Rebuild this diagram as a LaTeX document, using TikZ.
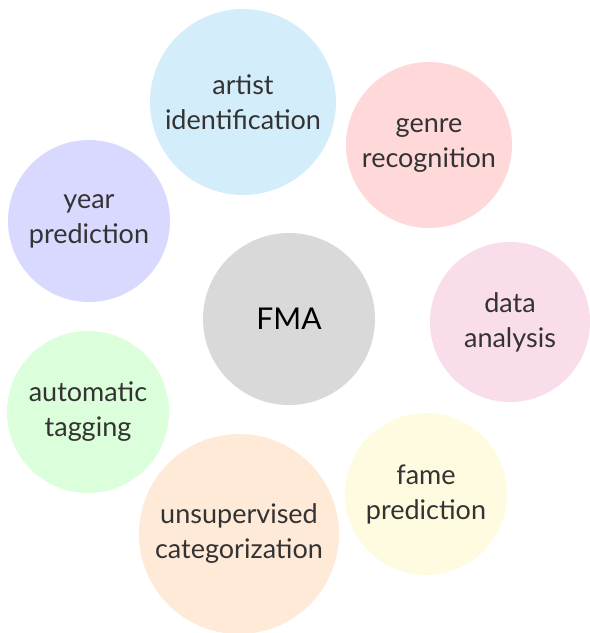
\documentclass[tikz,border=0pt]{standalone}
\usepackage{fontspec}
\setmainfont{Lato}
\definecolor{fmagray}{HTML}{D9D9D9}
\definecolor{cblue}{HTML}{D3EDFA}
\definecolor{cred}{HTML}{FFD9D9}
\definecolor{cpink}{HTML}{F9DDEA}
\definecolor{cyellow}{HTML}{FFFBE0}
\definecolor{corange}{HTML}{FFEAD8}
\definecolor{cgreen}{HTML}{DAFFDA}
\definecolor{cviolet}{HTML}{D9D9FF}
\begin{document}
\begin{tikzpicture}[x=1pt,y=-1pt,
  task/.style={circle,inner sep=0pt,align=center,text=black!80,font=\fontsize{27}{35}\selectfont}]
\useasboundingbox (0,0) rectangle (590,633);
\node[task,fill=fmagray,minimum size=172pt,text=black,font=\fontsize{30}{36}\selectfont] (fma) at (289,319) {FMA};
\node[task,fill=cblue,minimum size=186pt] (artist) at (243,102) {artist\\identification};
\node[task,fill=cred,minimum size=166pt] (genre) at (429,145) {genre\\recognition};
\node[task,fill=cpink,minimum size=160pt] (data) at (510,322) {data\\analysis};
\node[task,fill=cyellow,minimum size=162pt] (fame) at (426,494) {fame\\prediction};
\node[task,fill=corange,minimum size=200pt] (unsup) at (239,534) {unsupervised\\categorization};
\node[task,fill=cgreen,minimum size=162pt] (tagging) at (88,412) {automatic\\tagging};
\node[task,fill=cviolet,minimum size=162pt] (year) at (89,221) {year\\prediction};
\end{tikzpicture}
\end{document}
